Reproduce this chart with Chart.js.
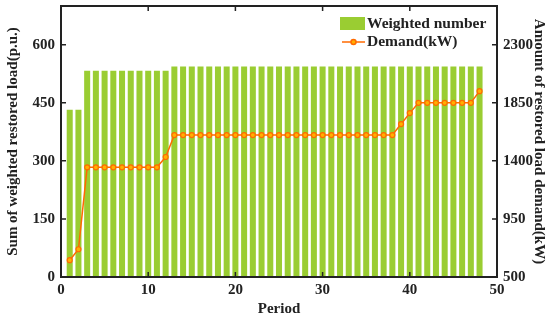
<!DOCTYPE html>
<html>
<head>
<meta charset="utf-8">
<script src="https://cdn.jsdelivr.net/npm/chart.js@4.4.1/dist/chart.umd.min.js"></script>
<style>
  html, body { margin: 0; padding: 0; background: #fff; }
  #wrap { width: 550px; height: 321px; }
</style>
</head>
<body>
<div id="wrap"><canvas id="grafico"></canvas></div>
<script>
// dados
const periods = [1, 2, 3, 4, 5, 6, 7, 8, 9, 10, 11, 12, 13, 14, 15, 16, 17, 18, 19, 20, 21, 22, 23, 24,
  25, 26, 27, 28, 29, 30, 31, 32, 33, 34, 35, 36, 37, 38, 39, 40, 41, 42, 43, 44, 45, 46, 47, 48];
const weighted = [432, 432, 533, 533, 533, 533, 533, 533, 533, 533, 533, 533,
  544, 544, 544, 544, 544, 544, 544, 544, 544, 544, 544, 544,
  544, 544, 544, 544, 544, 544, 544, 544, 544, 544, 544, 544,
  544, 544, 544, 544, 544, 544, 544, 544, 544, 544, 544, 544];
const demand = [630, 715, 1350, 1350, 1350, 1350, 1350, 1350, 1350, 1350, 1350, 1430,
  1600, 1600, 1600, 1600, 1600, 1600, 1600, 1600, 1600, 1600, 1600, 1600,
  1600, 1600, 1600, 1600, 1600, 1600, 1600, 1600, 1600, 1600, 1600, 1600,
  1600, 1600, 1685, 1770, 1850, 1850, 1850, 1850, 1850, 1850, 1850, 1940];
const xTicks = [0, 10, 20, 30, 40, 50];
const leftTicks = [0, 150, 300, 450, 600];
const rightTicks = [500, 950, 1400, 1850, 2300];

const serif = 'Liberation Serif';
const green = '#9acd32';
const orange = '#ff6a00';

// moldura, ticks internos e legenda
const moldura = {
  id: 'moldura',
  afterDraw(chart) {
    const { ctx, chartArea: a, scales } = chart;
    ctx.save();
    ctx.strokeStyle = '#222';
    ctx.lineWidth = 2;
    ctx.strokeRect(a.left, a.top, a.right - a.left, a.bottom - a.top);
    ctx.lineWidth = 1.5;
    ctx.beginPath();
    xTicks.forEach(v => {
      const px = scales.x.getPixelForValue(v);
      ctx.moveTo(px, a.top); ctx.lineTo(px, a.top + 5);
      ctx.moveTo(px, a.bottom); ctx.lineTo(px, a.bottom - 5);
    });
    leftTicks.forEach(v => {
      const py = scales.y.getPixelForValue(v);
      ctx.moveTo(a.left, py); ctx.lineTo(a.left + 5, py);
    });
    rightTicks.forEach(v => {
      const py = scales.y1.getPixelForValue(v);
      ctx.moveTo(a.right, py); ctx.lineTo(a.right - 5, py);
    });
    ctx.stroke();

    // legenda
    ctx.fillStyle = green;
    ctx.fillRect(340, 17, 25, 13);
    ctx.strokeStyle = orange;
    ctx.lineWidth = 1.5;
    ctx.beginPath();
    ctx.moveTo(342, 42); ctx.lineTo(365, 42);
    ctx.stroke();
    ctx.fillStyle = '#ffb000';
    ctx.beginPath();
    ctx.arc(353.5, 42, 2.5, 0, Math.PI * 2);
    ctx.fill(); ctx.stroke();
    ctx.fillStyle = '#222';
    ctx.font = 'bold 15.5px "' + serif + '"';
    ctx.textBaseline = 'middle';
    ctx.textAlign = 'left';
    ctx.fillText('Weighted number', 367, 24);
    ctx.fillText('Demand(kW)', 367, 42);
    ctx.restore();
  }
};

const tickFont = { family: serif, size: 15, weight: 'bold' };
const titleFont = { family: serif, size: 15, weight: 'bold' };
const semGrade = { display: false, drawTicks: false, tickLength: 0 };
const semPadding = s => { s.paddingTop = 0; s.paddingBottom = 0; s.paddingLeft = 0; s.paddingRight = 0; };

new Chart(document.getElementById('grafico'), {
  data: {
    datasets: [
      {
        type: 'line',
        label: 'Demand(kW)',
        data: periods.map((p, i) => ({ x: p, y: demand[i] })),
        yAxisID: 'y1',
        borderColor: orange,
        borderWidth: 1.5,
        pointRadius: 2.5,
        pointBorderWidth: 1.2,
        pointBackgroundColor: '#ffb000',
        pointBorderColor: orange,
        tension: 0,
        order: 1
      },
      {
        type: 'bar',
        label: 'Weighted number',
        data: periods.map((p, i) => ({ x: p, y: weighted[i] })),
        yAxisID: 'y',
        backgroundColor: green,
        barPercentage: 0.69,
        categoryPercentage: 1,
        order: 2
      }
    ]
  },
  options: {
    responsive: true,
    maintainAspectRatio: false,
    animation: false,
    layout: { padding: { top: 6, left: 0, right: 0, bottom: 0 } },
    plugins: {
      legend: { display: false },
      tooltip: { enabled: false }
    },
    scales: {
      x: {
        type: 'linear',
        min: 0, max: 50,
        offset: false,
        grid: semGrade,
        border: { display: false },
        afterBuildTicks: s => { s.ticks = xTicks.map(v => ({ value: v })); },
        afterFit: s => { s.height = 44; semPadding(s); },
        ticks: { font: tickFont, color: '#222', padding: 4, maxRotation: 0, callback: v => String(v) },
        title: { display: true, text: 'Period', font: titleFont, color: '#222', padding: { top: 0, bottom: 3 } }
      },
      y: {
        position: 'left',
        min: 0, max: 700,
        grid: semGrade,
        border: { display: false },
        afterBuildTicks: s => { s.ticks = leftTicks.map(v => ({ value: v })); },
        afterFit: s => { s.width = 61; semPadding(s); },
        ticks: { font: tickFont, color: '#222', padding: 6, callback: v => String(v) },
        title: { display: true, text: 'Sum of weighted restored load(p.u.)', font: titleFont, color: '#222', padding: { top: 4, bottom: 0 } }
      },
      y1: {
        position: 'right',
        min: 500, max: 2600,
        grid: semGrade,
        border: { display: false },
        afterBuildTicks: s => { s.ticks = rightTicks.map(v => ({ value: v })); },
        afterFit: s => { s.width = 53; semPadding(s); },
        ticks: { font: tickFont, color: '#222', padding: 6, callback: v => String(v) },
        title: { display: true, text: 'Amount of restored load demand(kW)', font: titleFont, color: '#222', padding: { top: 2, bottom: 0 } }
      }
    }
  },
  plugins: [moldura]
});
</script>
</body>
</html>
